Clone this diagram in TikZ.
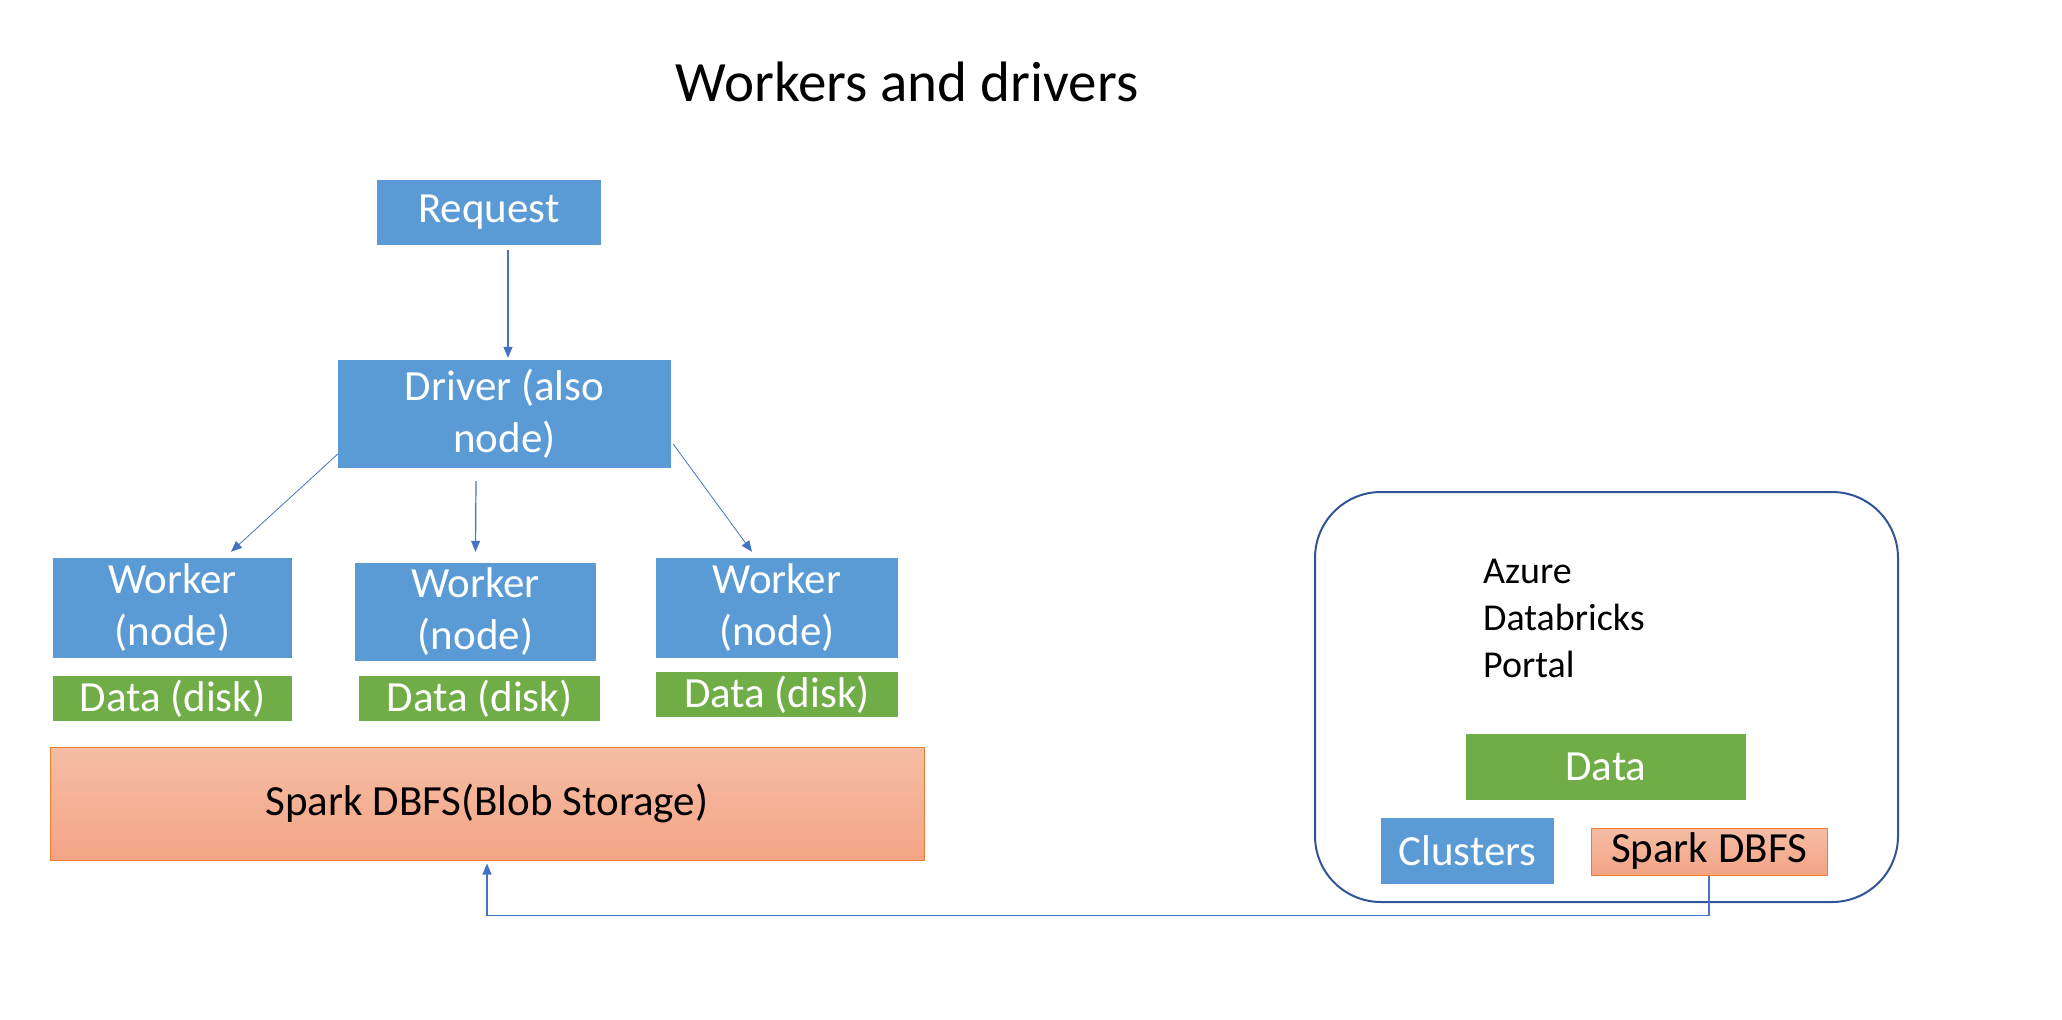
\documentclass[tikz,border=0pt]{standalone}
\usepackage{fontspec}
\setmainfont{Carlito}
\usetikzlibrary{arrows.meta}
\definecolor{offblue}{HTML}{5B9BD5}
\definecolor{offgreen}{HTML}{70AD47}
\definecolor{offorange}{HTML}{ED7D31}
\definecolor{arrblue}{HTML}{4472C4}
\definecolor{frameblue}{HTML}{2F5597}
\definecolor{salmtop}{HTML}{F5BDA5}
\definecolor{salmbot}{HTML}{F4A485}
\begin{document}
\begin{tikzpicture}[x=1pt,y=-1pt] % координаты в пикселях, y вниз
\tikzstyle{myblue} = [fill=offblue, text=white, inner sep=0pt, align=center, font=\fontsize{43}{52}\selectfont] % синий блок
\tikzstyle{mygreen} = [fill=offgreen, text=white, inner sep=0pt, align=center, font=\fontsize{43}{52}\selectfont] % зеленый блок (данные)
\tikzstyle{myorange} = [draw=offorange, line width=1pt, top color=salmtop, bottom color=salmbot, inner sep=0pt, font=\fontsize{43}{52}\selectfont] % хранилище
\tikzstyle{myframe} = [draw=frameblue, line width=2pt, rounded corners=66pt, minimum width=583pt, minimum height=410pt] % рамка портала
\tikzstyle{myarrow} = [draw=arrblue, line width=1.2pt, -{Triangle[length=11pt,width=9pt]}] % стрелка
\useasboundingbox (0,0) rectangle (2062,1020);

\node[font=\fontsize{57}{68}\selectfont] (title) at (907,82) {Workers and drivers}; % заголовок

\node[myblue, minimum width=224pt, minimum height=65pt] (req) at (489,212.5) {Request};
\node[myblue, minimum width=333pt, minimum height=108pt] (drv) at (504.5,414) {Driver (also\\node)};
\node[myblue, minimum width=239pt, minimum height=100pt] (w1) at (172.5,608) {Worker\\(node)};
\node[myblue, minimum width=241pt, minimum height=98pt] (w2) at (475.5,612) {Worker\\(node)};
\node[myblue, minimum width=242pt, minimum height=100pt] (w3) at (777,608) {Worker\\(node)};
\node[mygreen, minimum width=239pt, minimum height=45pt] (d1) at (172.5,698.5) {Data (disk)};
\node[mygreen, minimum width=241pt, minimum height=45pt] (d2) at (479.5,698.5) {Data (disk)};
\node[mygreen, minimum width=242pt, minimum height=45pt] (d3) at (777,694.5) {Data (disk)};
\node[myorange, minimum width=874pt, minimum height=113pt] (spark) at (487,803.5) {Spark DBFS(Blob Storage)};

\node[myframe] (portal) at (1606.5,697) {}; % Azure Databricks Portal
\node[anchor=west, inner sep=0pt, align=left, font=\fontsize{38}{47}\selectfont] (azure) at (1483,618) {Azure\\Databricks\\Portal};
\node[mygreen, minimum width=280pt, minimum height=66pt] (data) at (1606,767) {Data};
\node[myblue, minimum width=173pt, minimum height=66pt] (clus) at (1467.5,851) {Clusters};
\node[myorange, minimum width=236pt, minimum height=47pt] (sdbfs) at (1709,851.5) {Spark DBFS};

\draw[myarrow] ([xshift=19pt,yshift=-5pt]req.south) -- ([xshift=3.5pt,yshift=2pt]drv.north);
\draw[myarrow, line width=0.8pt] ([yshift=-40pt]drv.west) -- ([xshift=58.5pt,yshift=6pt]w1.north);
\draw[myarrow] ([xshift=-28.5pt,yshift=-13pt]drv.south) -- ([yshift=11pt]w2.north);
\draw[myarrow, line width=0.8pt] ([xshift=2pt,yshift=-30pt]drv.east) -- ([xshift=-25pt,yshift=6pt]w3.north);
\draw[myarrow] (sdbfs.south) -- ++(0,40) -| ([yshift=-3pt]spark.south);
\end{tikzpicture}
\end{document}
